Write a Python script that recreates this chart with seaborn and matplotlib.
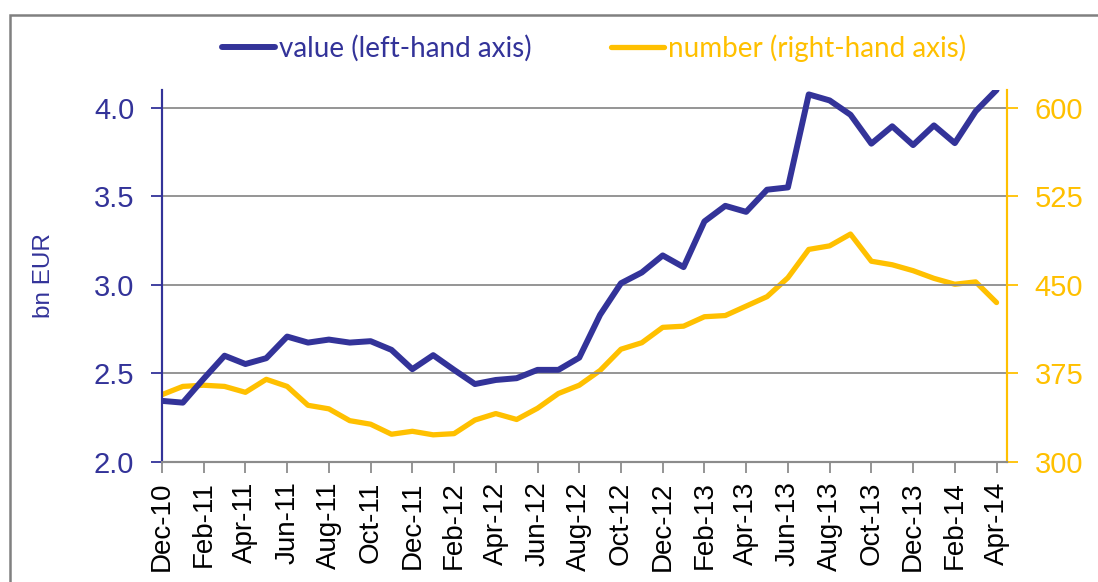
import matplotlib
matplotlib.use("Agg")
import matplotlib.pyplot as plt
import numpy as np
import pandas as pd
import seaborn as sns

# monthly data Dec-10 .. Apr-14
months = pd.date_range("2010-12-01", "2014-04-01", freq="MS")
value_bn = [2.345, 2.335, 2.47, 2.60, 2.553, 2.586, 2.708, 2.674, 2.691, 2.674,
            2.682, 2.633, 2.524, 2.603, 2.52, 2.44, 2.463, 2.473, 2.52, 2.52,
            2.589, 2.831, 3.009, 3.07, 3.166, 3.10, 3.358, 3.446, 3.412, 3.537,
            3.55, 4.075, 4.041, 3.96, 3.797, 3.895, 3.789, 3.90, 3.80, 3.98, 4.10]
number = [357, 364, 365, 364, 359, 370, 364, 348, 345, 335,
          332, 323.5, 326, 323, 324, 335.5, 341, 336, 345.5, 358,
          365, 377.5, 395.5, 401, 414, 415, 423, 424, 432, 440,
          456, 480, 483, 493, 470, 467, 462, 455.5, 450.5, 452.5, 435]
left_ticks = [2.0, 2.5, 3.0, 3.5, 4.0]
right_ticks = [300, 375, 450, 525, 600]

BLUE = "#333399"
YELLOW = "#FFC000"
GREY = "#8c8c8c"

df = pd.DataFrame({"idx": np.arange(len(months)), "value": value_bn, "number": number})
tick_idx = list(range(0, len(months), 2))
tick_labels = [months[i].strftime("%b-%y") for i in tick_idx]

sns.set_style("white")
plt.rcParams["font.family"] = ["Liberation Sans", "DejaVu Sans"]

fig = plt.figure(figsize=(10.98, 5.82), dpi=100)
ax = fig.add_axes([0.1475, 0.2062, 0.7696, 0.6392])
ax2 = ax.twinx()

sns.lineplot(data=df, x="idx", y="value", ax=ax, color=BLUE, lw=4.3,
             label="value (left-hand axis)", legend=False, zorder=3)
sns.lineplot(data=df, x="idx", y="number", ax=ax2, color=YELLOW, lw=3.8,
             label="number (right-hand axis)", legend=False)
ax.set_zorder(ax2.get_zorder() + 1)
ax.patch.set_visible(False)

ax.set_xlim(0, len(months) - 0.5)
ax.set_ylim(2.0, 4.1)
ax2.set_ylim(300, 615)

ax.set_yticks(left_ticks)
ax.set_yticklabels([f"{t:.1f}" for t in left_ticks])
ax2.set_yticks(right_ticks)
ax.set_xticks(tick_idx)
ax.set_xticklabels(tick_labels, rotation=90)

ax.grid(axis="y", color=GREY, lw=1.3)
ax.grid(axis="x", visible=False)
ax2.grid(False)

for a in (ax, ax2):
    a.spines["top"].set_visible(False)
    a.spines["left"].set_color(BLUE)
    a.spines["left"].set_linewidth(1.5)
    a.spines["right"].set_color(YELLOW)
    a.spines["right"].set_linewidth(1.5)
    a.spines["bottom"].set_color(GREY)
    a.spines["bottom"].set_linewidth(1.5)

ax.tick_params(axis="y", left=True, length=8, width=1.3, color=BLUE,
               labelcolor=BLUE, labelsize=21, pad=12)
ax.tick_params(axis="x", bottom=True, length=8, width=1.3, color=GREY,
               labelcolor="black", labelsize=20, pad=6)
ax2.tick_params(axis="y", right=True, length=8, width=1.3, color=YELLOW,
                labelcolor=YELLOW, labelsize=21, pad=12)
ax.set_xlabel("")
ax.set_ylabel("bn EUR", color=BLUE, fontsize=17.5, labelpad=28)
ax2.set_ylabel("")

h1, l1 = ax.get_legend_handles_labels()
h2, l2 = ax2.get_legend_handles_labels()
leg = fig.legend(h1 + h2, l1 + l2, loc="center", bbox_to_anchor=(0.541, 0.9175),
                 ncol=2, frameon=False, handlelength=1.9,
                 handletextpad=0.15, columnspacing=2.85,
                 prop={"family": ["Lato", "DejaVu Sans"], "size": 20})
for txt, c in zip(leg.get_texts(), [BLUE, YELLOW]):
    txt.set_color(c)

# outer frame, cut off at the right and bottom edges
fig.patches.append(plt.Rectangle((10 / 1098, -0.2), 1.2, 1.2 - 15 / 582,
                                 transform=fig.transFigure, fill=False,
                                 edgecolor="#808080", lw=1.8))

fig.savefig("out.png", dpi=100)
